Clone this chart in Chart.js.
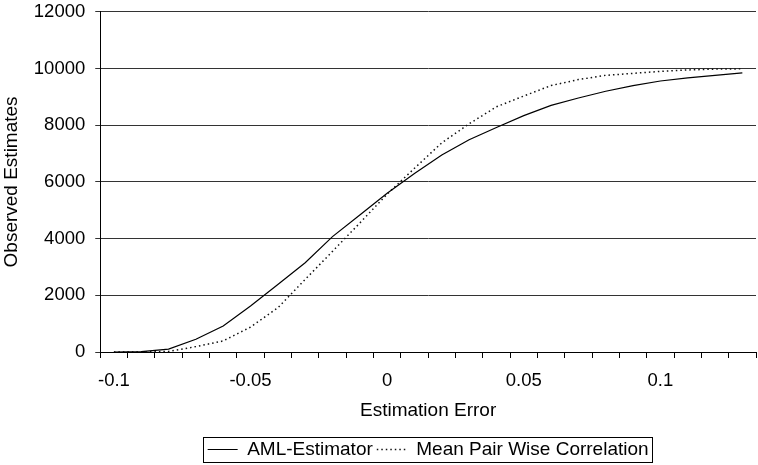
<!DOCTYPE html>
<html>
<head>
<meta charset="utf-8">
<script src="https://cdn.jsdelivr.net/npm/chart.js@4.4.1/dist/chart.umd.min.js"></script>
<style>
  html, body { margin: 0; padding: 0; background: #fff; }
  #wrap { width: 758px; height: 465px; }
</style>
</head>
<body>
<div id="wrap"><canvas id="chart" width="758" height="465"></canvas></div>
<script>
// categories on the x axis (estimation error)
const categories = ['-0.1', '-0.09', '-0.08', '-0.07', '-0.06', '-0.05', '-0.04', '-0.03', '-0.02', '-0.01',
    '0', '0.01', '0.02', '0.03', '0.04', '0.05', '0.06', '0.07', '0.08', '0.09',
    '0.1', '0.11', '0.12', '0.13'];

// cumulative observed estimates
const amlEstimator = [0, 10, 100, 450, 920, 1620, 2380, 3150, 4070, 4830, 5600, 6300,
    6950, 7490, 7920, 8340, 8700, 8960, 9200, 9400, 9560, 9670, 9760, 9850];
const meanPairWise = [0, 0, 20, 190, 390, 880, 1560, 2560, 3550, 4550, 5570, 6480,
    7380, 8050, 8650, 9030, 9400, 9610, 9760, 9830, 9900, 9950, 9980, 9990];

const yTicks = [0, 2000, 4000, 6000, 8000, 10000, 12000];

Chart.defaults.font.family = '"Liberation Sans", Arial, sans-serif';
Chart.defaults.font.size = 19;
Chart.defaults.color = '#000';

// frame round the legend, like the spreadsheet original
const legendFrame = {
    id: 'legendFrame',
    afterDraw(chart) {
        const boxes = chart.legend.legendHitBoxes;
        if (!boxes || !boxes.length) return;
        const left = boxes[0].left - 5;
        const right = boxes[boxes.length - 1].left + boxes[boxes.length - 1].width + 3;
        const top = boxes[0].top - 3;
        const bottom = boxes[0].top + boxes[0].height + 3;
        const ctx = chart.ctx;
        ctx.save();
        ctx.strokeStyle = '#000';
        ctx.lineWidth = 1;
        ctx.strokeRect(Math.round(left) + 0.5, Math.round(top) + 0.5, Math.round(right - left), Math.round(bottom - top));
        ctx.restore();
    }
};

new Chart(document.getElementById('chart'), {
    type: 'line',
    data: {
        labels: categories,
        datasets: [
            {
                label: 'AML-Estimator',
                data: amlEstimator,
                borderColor: '#000',
                backgroundColor: '#000',
                borderWidth: 1.2,
                pointRadius: 0,
                tension: 0
            },
            {
                label: 'Mean Pair Wise Correlation',
                data: meanPairWise,
                borderColor: '#111',
                backgroundColor: '#111',
                borderWidth: 1.5,
                borderDash: [1.5, 3],
                pointRadius: 0,
                tension: 0
            }
        ]
    },
    options: {
        responsive: false,
        animation: false,
        layout: { padding: { left: 0, right: 2, top: 0, bottom: -4 } },
        plugins: {
            tooltip: { enabled: false },
            legend: {
                position: 'bottom',
                fullSize: false,
                labels: {
                    boxWidth: 30,
                    boxHeight: 0,
                    padding: 4,
                    color: '#000'
                }
            }
        },
        scales: {
            x: {
                type: 'category',
                offset: true,
                grid: {
                    offset: true,
                    drawOnChartArea: false,
                    drawTicks: true,
                    tickLength: 6,
                    color: '#000'
                },
                border: { color: '#000' },
                ticks: {
                    autoSkip: false,
                    maxRotation: 0,
                    padding: 12,
                    font: { size: 18.5 },
                    callback: function(value, index) {
                        return index % 5 === 0 ? categories[index] : '';
                    }
                },
                title: {
                    display: true,
                    text: 'Estimation Error',
                    padding: { top: -4.6, bottom: 13.6 }
                }
            },
            y: {
                min: 0,
                max: 12000,
                afterBuildTicks: function(axis) {
                    axis.ticks = yTicks.map(v => ({ value: v }));
                },
                grid: {
                    color: '#333',
                    tickLength: 5
                },
                border: { color: '#000' },
                ticks: {
                    padding: 10,
                    font: { size: 18.5, lineHeight: 0.2 },
                    callback: function(value) { return String(value); }
                },
                title: {
                    display: true,
                    text: 'Observed Estimates',
                    padding: { top: 0, bottom: 1 }
                }
            }
        }
    },
    plugins: [legendFrame]
});
</script>
</body>
</html>
